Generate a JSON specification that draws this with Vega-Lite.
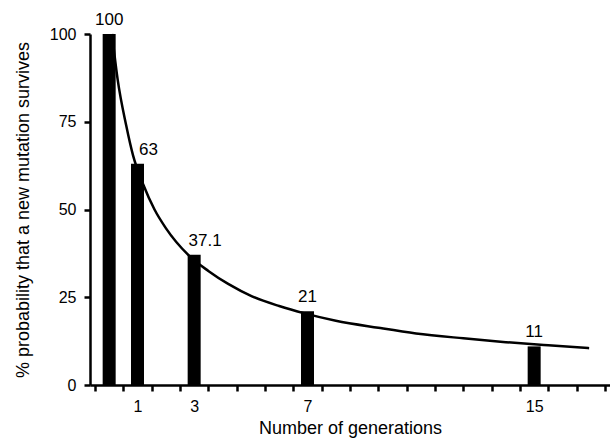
{
  "$schema": "https://vega.github.io/schema/vega-lite/v6.json",
  "width": 520,
  "height": 351,
  "autosize": "none",
  "padding": {"left": 90, "top": 34, "right": 0, "bottom": 54},
  "background": "white",
  "config": {
    "view": {"stroke": null},
    "font": "Liberation Sans",
    "axis": {
      "labelFont": "Liberation Sans",
      "titleFont": "Liberation Sans",
      "labelFontSize": 16,
      "titleFontSize": 18,
      "titleFontWeight": "normal",
      "labelColor": "black",
      "titleColor": "black",
      "domainColor": "black",
      "tickColor": "black",
      "domainWidth": 2.5,
      "tickWidth": 2.5,
      "grid": false
    }
  },
  "datasets": {
    "bars": [
      {"generations": 0, "survival": 100, "label": "100"},
      {"generations": 1, "survival": 63, "label": "63"},
      {"generations": 3, "survival": 37.1, "label": "37.1"},
      {"generations": 7, "survival": 21, "label": "21"},
      {"generations": 15, "survival": 11, "label": "11"}
    ],
    "curve": [
      {"generations": 0.1, "survival": 100},
      {"generations": 0.3, "survival": 87},
      {"generations": 0.6, "survival": 74},
      {"generations": 0.84, "survival": 65.5},
      {"generations": 1.21, "survival": 57},
      {"generations": 1.6, "survival": 50},
      {"generations": 2.0, "survival": 44.7},
      {"generations": 2.8, "survival": 37},
      {"generations": 3.5, "survival": 32.5},
      {"generations": 4.2, "survival": 28.8},
      {"generations": 5.06, "survival": 25.2},
      {"generations": 6.0, "survival": 22.5},
      {"generations": 6.9, "survival": 20.4},
      {"generations": 8.0, "survival": 18.3},
      {"generations": 9.5, "survival": 16.3},
      {"generations": 10.83, "survival": 14.7},
      {"generations": 12.5, "survival": 13.3},
      {"generations": 14.0, "survival": 12.2},
      {"generations": 15.5, "survival": 11.3},
      {"generations": 16.94, "survival": 10.5}
    ]
  },
  "resolve": {"axis": {"x": "independent"}},
  "layer": [
    {
      "data": {"name": "bars"},
      "mark": {"type": "bar", "color": "black", "size": 13},
      "encoding": {
        "x": {
          "field": "generations",
          "type": "quantitative",
          "scale": {"domain": [-0.5, 17.5], "nice": false, "zero": false},
          "axis": {
            "orient": "bottom",
            "title": "Number of generations",
            "values": [-0.5, 0.5, 1.5, 2.5, 3.5, 4.5, 5.5, 6.5, 7.5, 8.5, 9.5, 10.5, 11.5, 12.5, 13.5, 14.5, 15.5, 16.5, 17.5],
            "labels": false,
            "tickSize": 6,
            "titlePadding": 27
          }
        },
        "y": {
          "field": "survival",
          "type": "quantitative",
          "scale": {"domain": [0, 100], "nice": false},
          "axis": {
            "title": "% probability that a new mutation survives",
            "values": [0, 25, 50, 75, 100],
            "tickSize": 6,
            "labelPadding": 8,
            "titlePadding": 17
          }
        }
      }
    },
    {
      "data": {"name": "curve"},
      "mark": {"type": "line", "color": "black", "strokeWidth": 2.5, "interpolate": "monotone"},
      "encoding": {
        "x": {
          "field": "generations",
          "type": "quantitative",
          "axis": {
            "orient": "bottom",
            "title": null,
            "values": [1, 3, 7, 15],
            "ticks": false,
            "domain": false,
            "labelPadding": 13
          }
        },
        "y": {"field": "survival", "type": "quantitative"}
      }
    },
    {
      "data": {"name": "bars"},
      "transform": [{"filter": "datum.generations != 1 && datum.generations != 3"}],
      "mark": {"type": "text", "fontSize": 17, "font": "Liberation Sans", "baseline": "bottom", "dy": -5, "color": "black"},
      "encoding": {
        "x": {"field": "generations", "type": "quantitative", "axis": null},
        "y": {"field": "survival", "type": "quantitative"},
        "text": {"field": "label"}
      }
    },
    {
      "data": {"name": "bars"},
      "transform": [{"filter": "datum.generations == 1 || datum.generations == 3"}],
      "mark": {"type": "text", "fontSize": 17, "font": "Liberation Sans", "baseline": "bottom", "dy": -5, "dx": 11, "color": "black"},
      "encoding": {
        "x": {"field": "generations", "type": "quantitative", "axis": null},
        "y": {"field": "survival", "type": "quantitative"},
        "text": {"field": "label"}
      }
    }
  ]
}
